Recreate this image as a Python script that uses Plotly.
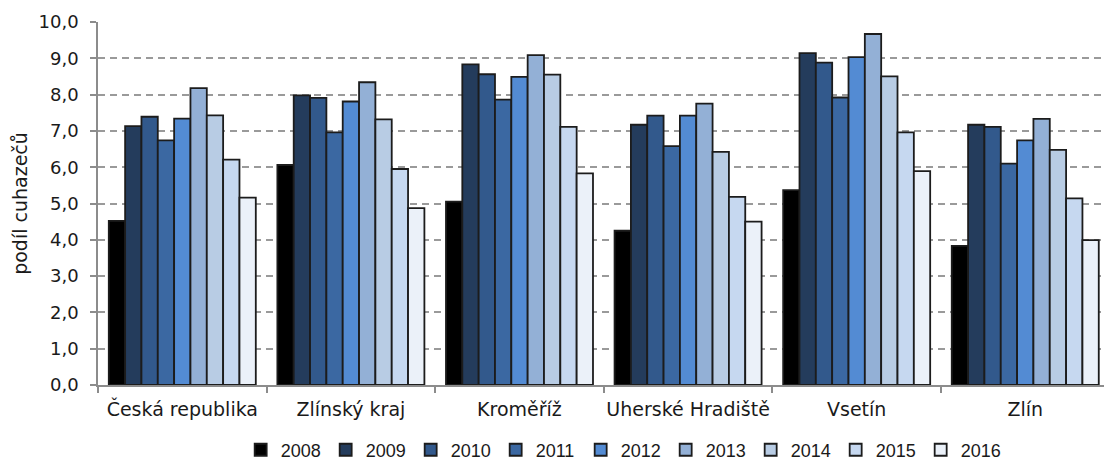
import plotly.graph_objects as go

# Regions on the category axis
regions = ["Česká republika", "Zlínský kraj", "Kroměříž", "Uherské Hradiště", "Vsetín", "Zlín"]

# Share of job seekers by year, one list per year (values per region)
years = ["2008", "2009", "2010", "2011", "2012", "2013", "2014", "2015", "2016"]
v2008 = [4.52, 6.06, 5.05, 4.25, 5.37, 3.83]
v2009 = [7.13, 7.98, 8.83, 7.17, 9.14, 7.17]
v2010 = [7.39, 7.91, 8.56, 7.42, 8.88, 7.11]
v2011 = [6.74, 6.96, 7.86, 6.58, 7.92, 6.10]
v2012 = [7.34, 7.81, 8.49, 7.42, 9.03, 6.74]
v2013 = [8.18, 8.34, 9.09, 7.75, 9.67, 7.33]
v2014 = [7.43, 7.32, 8.55, 6.42, 8.50, 6.48]
v2015 = [6.21, 5.95, 7.11, 5.18, 6.96, 5.14]
v2016 = [5.16, 4.87, 5.83, 4.50, 5.89, 3.99]
series = [v2008, v2009, v2010, v2011, v2012, v2013, v2014, v2015, v2016]

colors = ["#000000", "#243c5c", "#32598c", "#3b68a2", "#538bd3",
          "#93b0d6", "#b8cce4", "#c6d8f0", "#ebf1f9"]

FONT = "DejaVu Sans"
LEGEND_FONT = "Liberation Sans"
TEXT = "#1a1a1a"

fig = go.Figure()
for year, vals, col in zip(years, series, colors):
    fig.add_trace(go.Bar(
        name=year, x=regions, y=vals,
        marker=dict(color=col, line=dict(color="#1c1c1c", width=1.8)),
    ))

fig.update_layout(
    width=1104, height=463,
    margin=dict(l=98, r=0, t=22, b=78),
    paper_bgcolor="white", plot_bgcolor="white",
    barmode="group", bargap=0.128, bargroupgap=0,
    separators=", ",
    font=dict(family=FONT, size=18, color=TEXT),
    showlegend=True,
    legend=dict(
        orientation="h", xref="container", yref="container",
        x=0.218, xanchor="left", y=0.028, yanchor="middle",
        font=dict(family=LEGEND_FONT, size=18, color=TEXT),
        entrywidth=40, entrywidthmode="pixels",
        itemwidth=30, traceorder="normal",
    ),
)

fig.update_yaxes(
    range=[0, 10], dtick=1, tickformat=".1f",
    showgrid=True, gridcolor="#9a9a9a", gridwidth=1.5, griddash="7px,5px",
    showline=True, linecolor="#8c8c8c", linewidth=1.5,
    ticks="outside", ticklen=6, tickcolor="#8c8c8c", tickwidth=1.5,
    ticklabelstandoff=8, automargin=False,
    tickfont=dict(family=FONT, size=18, color=TEXT),
    title=dict(text="podíl cuhazečů", font=dict(family=FONT, size=19, color=TEXT), standoff=6),
    zeroline=False,
)

fig.update_xaxes(
    range=[-0.5, 5.467],
    showline=True, linecolor="#8c8c8c", linewidth=1.5,
    ticks="outside", tickson="boundaries", ticklen=6, tickcolor="#8c8c8c", tickwidth=1.5,
    tickangle=0, automargin=False, ticklabelstandoff=6,
    tickfont=dict(family=FONT, size=19, color=TEXT),
    showgrid=False,
)

fig.write_html("out.html")
